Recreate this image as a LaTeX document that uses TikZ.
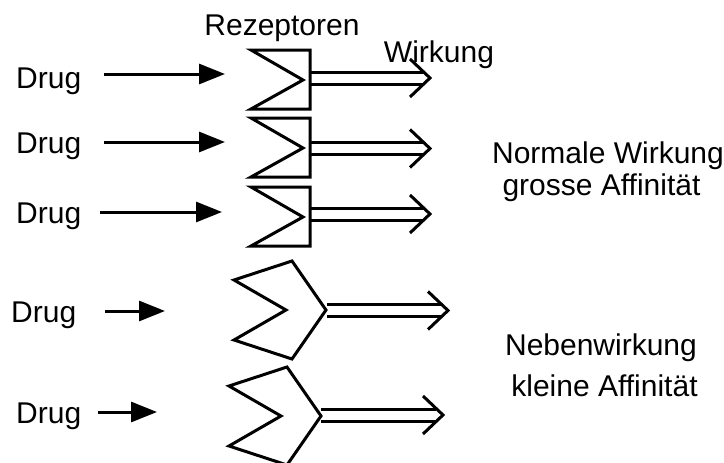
\documentclass[tikz,border=0pt]{standalone}
\usepackage{fontspec}
\setmainfont{Liberation Sans}
\usetikzlibrary{arrows.meta}
\begin{document}
\begin{tikzpicture}[x=1pt,y=-1pt,
  lbl/.style={font=\fontsize{30}{35}\selectfont, inner sep=0pt, anchor=base},
  outline/.style={line width=3pt, line join=miter},
  drugarrow/.style={line width=3pt, -{Triangle[length=26pt,width=20pt]}},
  % receptor box with a notch, anchored at the middle of its right side
  pics/smallrec/.style={code={
     \draw[outline] (-59,-29.5) -- (0,-29.5) -- (0,29.5) -- (-59,29.5) -- (-7,0.5) -- cycle;}},
  % pointed receptor, anchored at its right tip
  pics/bigrec/.style={code={
     \draw[outline] (-92,-30) -- (-34,-49) -- (0,0) -- (-34,49) -- (-92,30) -- (-40,0) -- cycle;}},
  % double-shafted effect arrow of given length
  pics/effect/.style={code={
     \draw[outline] (0,-6) -- (#1-7,-6) (0,6) -- (#1-7,6);
     \draw[outline] (#1-20,-19) -- (#1,0) -- (#1-20,19);}},
]
\useasboundingbox (0,0) rectangle (724,463);

% headings
\node[lbl] (rez) at (282,35) {Rezeptoren};
\node[lbl] (wirk) at (439,62) {Wirkung};

% receptors
\coordinate (r1) at (310,79.5);
\coordinate (r2) at (310,147.5);
\coordinate (r3) at (310,216.5);
\coordinate (r4) at (326,310);
\coordinate (r5) at (321,416);
\pic at (r1) {smallrec};
\pic at (r2) {smallrec};
\pic at (r3) {smallrec};
\pic at (r4) {bigrec};
\pic at (r5) {bigrec};

% effects
\pic at (310,78) {effect=120};
\pic at (310,148.5) {effect=120};
\pic at (310,214) {effect=120};
\pic at (327,310.5) {effect=121};
\pic at (321,415) {effect=122};

% drugs
\node[lbl, anchor=base west] (d1) at (16,88) {Drug};
\node[lbl, anchor=base west] (d2) at (16,153) {Drug};
\node[lbl, anchor=base west] (d3) at (16,223) {Drug};
\node[lbl, anchor=base west] (d4) at (11,322) {Drug};
\node[lbl, anchor=base west] (d5) at (16,423) {Drug};

\coordinate (s1) at (104,74);  \coordinate (e1) at (225,74);
\coordinate (s2) at (104,142); \coordinate (e2) at (225,142);
\coordinate (s3) at (100,212); \coordinate (e3) at (222,212);
\coordinate (s4) at (105,311); \coordinate (e4) at (165,311);
\coordinate (s5) at (98,412);  \coordinate (e5) at (157,412);
\draw[drugarrow] (s1) -- (e1);
\draw[drugarrow] (s2) -- (e2);
\draw[drugarrow] (s3) -- (e3);
\draw[drugarrow] (s4) -- (e4);
\draw[drugarrow] (s5) -- (e5);

% descriptions
\node[lbl] (n1) at (608,163) {Normale Wirkung};
\node[lbl] (n2) at (601.5,195) {grosse Affinität};
\node[lbl] (n3) at (601,355) {Nebenwirkung};
\node[lbl] (n4) at (604.5,396) {kleine Affinität};
\end{tikzpicture}
\end{document}
